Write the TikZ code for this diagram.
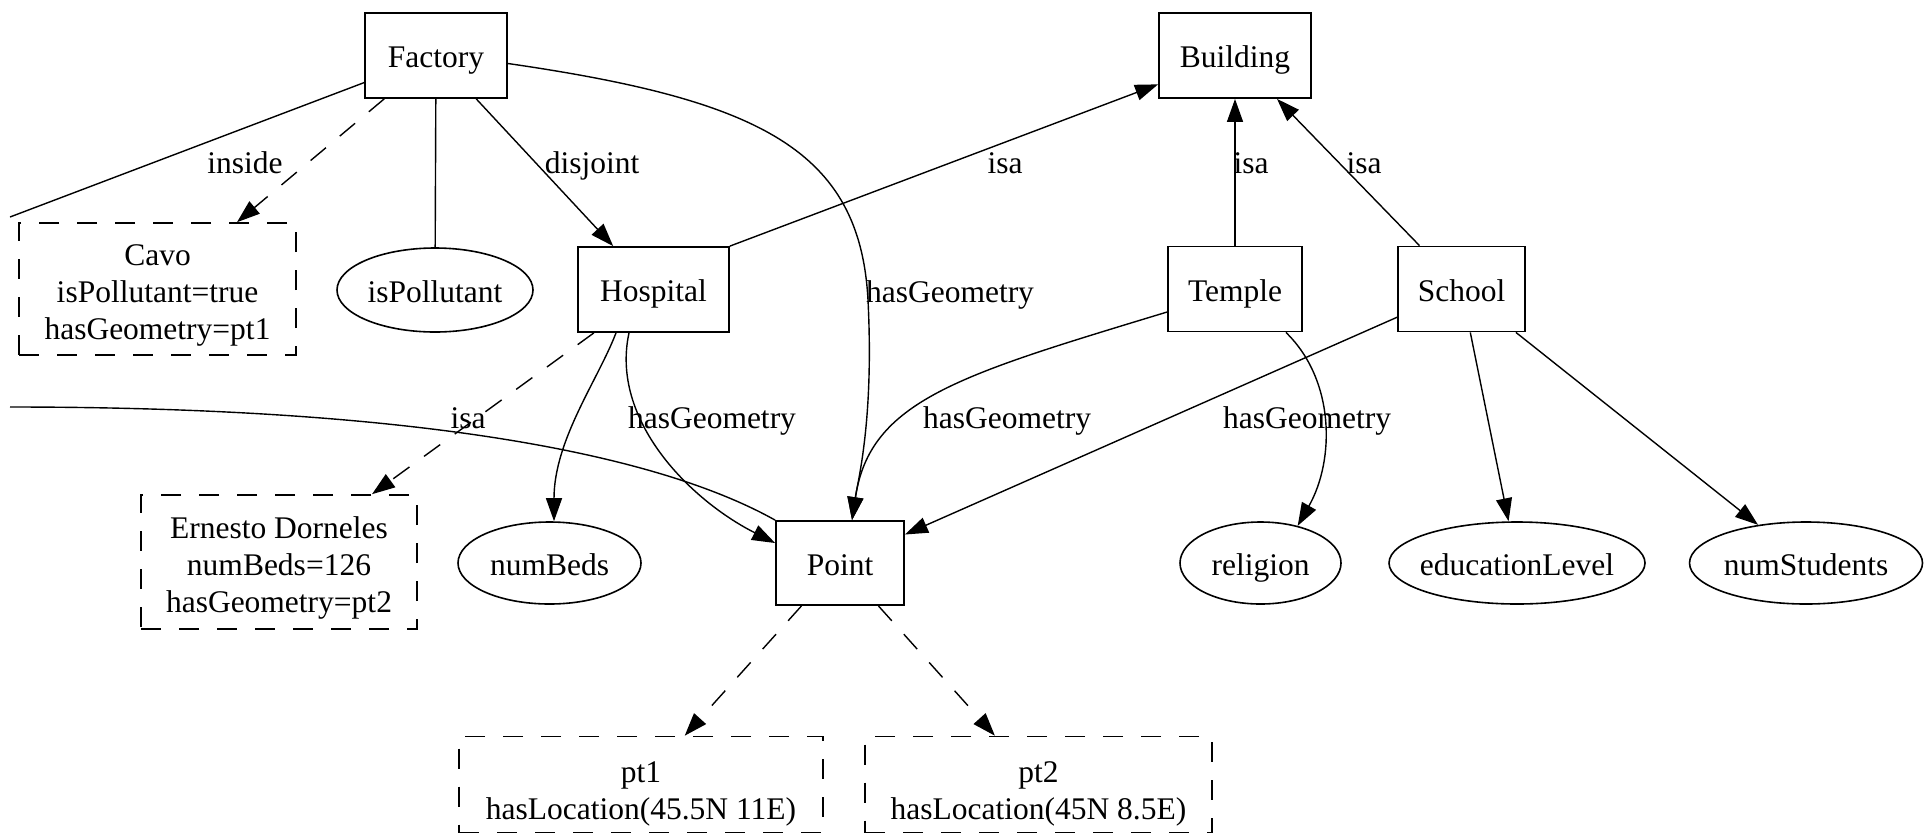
\documentclass[tikz,border=0pt]{standalone}
\usepackage{fontspec}
\setmainfont{Liberation Serif}
\usetikzlibrary{arrows.meta,shapes.geometric,calc}

\begin{document}
\begin{tikzpicture}[x=1pt,y=-1pt,
  every node/.style={font=\fontsize{31.5}{37}\selectfont, inner sep=0pt},
  box/.style={draw, line width=1.8pt, rectangle, text height=24pt, text depth=0pt},
  attr/.style={draw, line width=1.6pt, ellipse, minimum height=82pt, text height=24pt, text depth=0pt},
  inst/.style={draw, line width=1.6pt, rectangle, dash pattern=on 20pt off 18pt, align=center},
  lbl/.style={text height=24pt, text depth=0pt},
  conn/.style={line width=1.4pt},
  arr/.style={conn, -{Triangle[length=23pt,width=16pt]}},
  darr/.style={arr, dash pattern=on 20pt off 18pt},
]
% canvas
\fill[white] (0,0) rectangle (1929,833);
\useasboundingbox (0,0) rectangle (1929,833);

% classes
\node[box, minimum width=142pt, minimum height=85pt] (fac) at (436,55.5) {Factory};
\node[box, minimum width=152pt, minimum height=85pt] (bld) at (1235,55.5) {Building};
\node[box, minimum width=151pt, minimum height=85pt] (hos) at (653.5,289.5) {Hospital};
\node[box, minimum width=134pt, minimum height=85pt] (tem) at (1235,289) {Temple};
\node[box, minimum width=127pt, minimum height=85pt] (sch) at (1461.5,289) {School};
\node[box, minimum width=128pt, minimum height=84pt] (point) at (840,563) {Point};

% attributes
\node[attr, minimum width=196pt, minimum height=84pt] (ispol) at (435,290) {\makebox[0pt]{isPollutant}};
\node[attr, minimum width=183pt] (numbeds) at (549.5,563) {\makebox[0pt]{numBeds}};
\node[attr, minimum width=161pt] (religion) at (1260.5,563) {\makebox[0pt]{religion}};
\node[attr, minimum width=256pt] (edu) at (1517,563) {\makebox[0pt]{educationLevel}};
\node[attr, minimum width=233pt] (nums) at (1806,563) {\makebox[0pt]{numStudents}};

% instances
\node[inst, minimum width=277pt, minimum height=132pt] (cavo) at (157.5,289)
  {\rule{0pt}{33pt}Cavo\\isPollutant=true\\hasGeometry=pt1};
\node[inst, minimum width=276pt, minimum height=134pt] (ern) at (279,562)
  {\rule{0pt}{33pt}Ernesto Dorneles\\numBeds=126\\hasGeometry=pt2};
\node[inst, minimum width=364pt, minimum height=96pt] (pt1) at (641,784.5)
  {\rule{0pt}{39pt}pt1\\hasLocation(45.5N 11E)};
\node[inst, minimum width=347pt, minimum height=96pt] (pt2) at (1038.5,784.5)
  {\rule{0pt}{39pt}pt2\\hasLocation(45N 8.5E)};

% loose ends running off the left side
\coordinate (lftA) at (10,217);
\coordinate (lftB) at (10,407);

% connectors
\draw[conn] (fac) -- (lftA);
\draw[darr] (fac) -- (cavo);
\draw[conn] (fac) -- (ispol);
\draw[arr] (fac) -- (hos);
\draw[arr] ($(fac.east)+(0,8)$) .. controls (760,100) and (860,150) .. (868,300)
  .. controls (874,420) and (858,480) .. ($(point.north)+(12,0)$);
\draw[arr] (hos.north east) -- (bld);
\draw[arr] (tem) -- (bld);
\draw[arr] (sch) -- (bld);
\draw[darr] (hos) -- (ern);
\draw[arr] ($(hos.south)+(-37.5,0)$) .. controls (598,380) and (554,440) .. ($(numbeds.north)+(4.5,0)$);
\draw[arr] ($(hos.south)+(-24.5,0)$) .. controls (610,420) and (690,500) .. ($(point.west)+(0,-20)$);
\draw[arr] ($(tem.west)+(0,23)$) .. controls (960,375) and (870,400) .. ($(point.north)+(12,0)$);
\draw[arr] ($(tem.south east)+(-17,0)$) .. controls (1335,380) and (1335,460) .. (religion.45);
\draw[arr] (sch) -- (point);
\draw[arr] (sch) -- (edu);
\draw[arr] (sch) -- (nums);
\draw[darr] (point) -- (pt1);
\draw[darr] (point) -- (pt2);
\draw[conn] (lftB) .. controls (400,407) and (650,450) .. (point.north west);

% edge labels
\node[lbl] (l-inside) at (245,161) {inside};
\node[lbl] (l-disj) at (592,161) {disjoint};
\node[lbl] (l-isa1) at (1005,161) {isa};
\node[lbl] (l-isa2) at (1251,161) {isa};
\node[lbl] (l-isa3) at (1364,161) {isa};
\node[lbl] (l-geo1) at (950,290) {hasGeometry};
\node[lbl] (l-isa4) at (468,416) {isa};
\node[lbl] (l-geo2) at (712,416) {hasGeometry};
\node[lbl] (l-geo3) at (1007,416) {hasGeometry};
\node[lbl] (l-geo4) at (1307,416) {hasGeometry};
\end{tikzpicture}
\end{document}
